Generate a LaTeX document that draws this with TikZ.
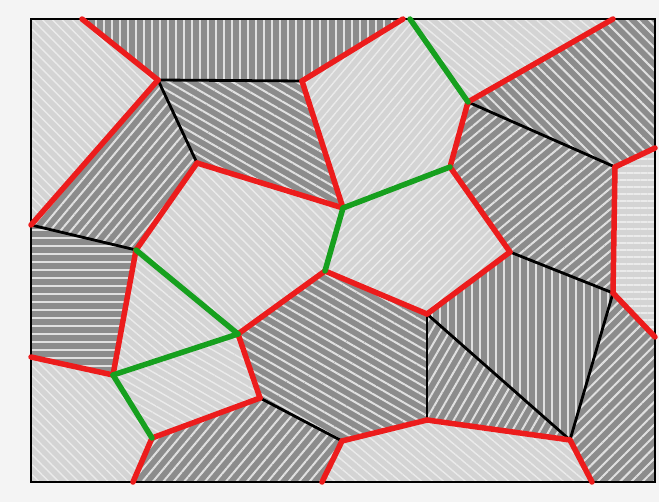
\documentclass[tikz,border=0pt]{standalone}
\usetikzlibrary{patterns.meta}
\definecolor{gbred}{RGB}{236,28,28}
\definecolor{gbgreen}{RGB}{22,160,30}
\definecolor{paper}{RGB}{244,244,244}
\tikzset{
  darkgrain/.style={fill=black!45, postaction={pattern={Lines[angle=#1,distance=8pt,line width=2pt]}, pattern color=white!88!black}},
  lightgrain/.style={fill=black!17, postaction={pattern={Lines[angle=#1,distance=7pt,line width=1.4pt]}, pattern color=white!92!black}},
  redb/.style={draw=gbred, line width=5.5pt, line cap=round, line join=round},
  greenb/.style={draw=gbgreen, line width=5.5pt, line cap=round, line join=round},
  blackb/.style={draw=black, line width=2.8pt, line cap=round},
  frame/.style={draw=black, line width=1.2pt},
}
\begin{document}
\begin{tikzpicture}[x=1pt,y=-1pt]
\useasboundingbox (0,0) rectangle (659,502);
\fill[paper] (0,0) rectangle (659,502);
% frame corners and boundary points
\coordinate (TL) at (31,19);
\coordinate (TR) at (655,19);
\coordinate (BR) at (655,482);
\coordinate (BL) at (31,482);
\coordinate (A) at (82,19);
\coordinate (Ct) at (403,19);
\coordinate (Gt) at (410,19);
\coordinate (Tr) at (613,19);
\coordinate (Re1) at (655,148);
\coordinate (Re2) at (655,337);
\coordinate (Bt1) at (133,482);
\coordinate (Bt2) at (322,482);
\coordinate (Bt3) at (592,482);
\coordinate (D) at (31,225);
\coordinate (Le2) at (31,357);
% triple junctions
\coordinate (B) at (158,80);
\coordinate (C) at (302,81);
\coordinate (E) at (197,163);
\coordinate (F) at (343,208);
\coordinate (G) at (136,250);
\coordinate (H) at (468,102);
\coordinate (I) at (615,167);
\coordinate (K) at (450,167);
\coordinate (J) at (613,293);
\coordinate (L) at (510,252);
\coordinate (M) at (325,271);
\coordinate (N) at (113,375);
\coordinate (O) at (238,334);
\coordinate (P) at (260,398);
\coordinate (R) at (152,438);
\coordinate (Q) at (342,441);
\coordinate (S) at (427,314);
\coordinate (T) at (427,420);
\coordinate (U) at (570,440);
% grains
\path[lightgrain=-45] (TL)--(A)--(B)--(D)--cycle;
\path[darkgrain=90] (A)--(Ct)--(C)--(B)--cycle;
\path[darkgrain=-30] (B)--(C)--(F)--(E)--cycle;
\path[darkgrain=50] (B)--(E)--(G)--(D)--cycle;
\path[darkgrain=0] (D)--(G)--(N)--(Le2)--cycle;
\path[lightgrain=50] (Ct)--(Gt)--(H)--(K)--(F)--(C)--cycle;
\path[lightgrain=-40] (Gt)--(Tr)--(H)--cycle;
\path[darkgrain=-45] (Tr)--(TR)--(Re1)--(I)--(H)--cycle;
\path[darkgrain=40] (H)--(I)--(J)--(L)--(K)--cycle;
\path[lightgrain=0] (I)--(Re1)--(Re2)--(J)--cycle;
\path[lightgrain=-45] (E)--(F)--(M)--(O)--(G)--cycle;
\path[lightgrain=45] (F)--(K)--(L)--(S)--(M)--cycle;
\path[lightgrain=-40] (G)--(O)--(N)--cycle;
\path[lightgrain=-30] (N)--(O)--(P)--(R)--cycle;
\path[lightgrain=-45] (Le2)--(N)--(R)--(Bt1)--(BL)--cycle;
\path[darkgrain=-30] (M)--(S)--(T)--(Q)--(P)--(O)--cycle;
\path[darkgrain=50] (R)--(P)--(Q)--(Bt2)--(Bt1)--cycle;
\path[darkgrain=90] (S)--(L)--(J)--(U)--cycle;
\path[darkgrain=60] (S)--(U)--(T)--cycle;
\path[darkgrain=45] (J)--(Re2)--(BR)--(Bt3)--(U)--cycle;
\path[lightgrain=-40] (Q)--(T)--(U)--(Bt3)--(Bt2)--cycle;
% black boundaries
\draw[blackb] (B)--(C);
\draw[blackb] (B)--(E);
\draw[blackb] (D)--(G);
\draw[blackb] (H)--(I);
\draw[blackb] (P)--(Q);
\draw[blackb] (S)--(T);
\draw[blackb] (S)--(U);
\draw[blackb] (L)--(J);
\draw[blackb] (J)--(U);
% frame
\draw[frame] (TL) rectangle (BR);
% red boundaries
\draw[redb] (A)--(B);
\draw[redb] (B)--(D);
\draw[redb] (C)--(Ct);
\draw[redb] (C)--(F);
\draw[redb] (E)--(F);
\draw[redb] (E)--(G);
\draw[redb] (H)--(Tr);
\draw[redb] (I)--(Re1);
\draw[redb] (I)--(J);
\draw[redb] (H)--(K);
\draw[redb] (K)--(L);
\draw[redb] (M)--(O);
\draw[redb] (O)--(P);
\draw[redb] (G)--(N);
\draw[redb] (N)--(Le2);
\draw[redb] (R)--(P);
\draw[redb] (R)--(Bt1);
\draw[redb] (Q)--(Bt2);
\draw[redb] (L)--(S);
\draw[redb] (S)--(M);
\draw[redb] (J)--(Re2);
\draw[redb] (Q)--(T);
\draw[redb] (T)--(U);
\draw[redb] (U)--(Bt3);
% green boundaries
\draw[greenb] (Gt)--(H);
\draw[greenb] (K)--(F);
\draw[greenb] (F)--(M);
\draw[greenb] (G)--(O);
\draw[greenb] (N)--(O);
\draw[greenb] (N)--(R);
\end{tikzpicture}
\end{document}
